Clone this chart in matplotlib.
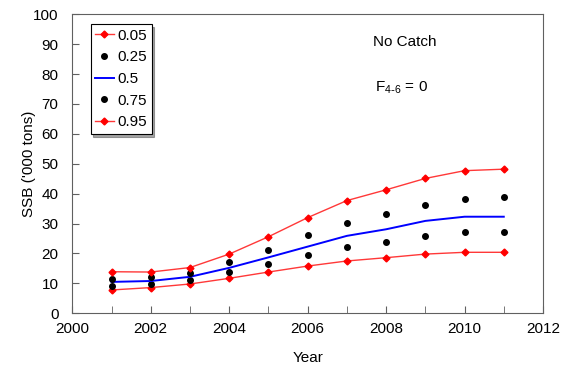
import matplotlib
matplotlib.use("Agg")
import matplotlib.pyplot as plt
from matplotlib.ticker import MultipleLocator

plt.rcParams['font.family'] = ['Liberation Sans', 'DejaVu Sans']

years = [2001, 2002, 2003, 2004, 2005, 2006, 2007, 2008, 2009, 2010, 2011]
q05 = [7.8, 8.6, 9.8, 11.7, 13.8, 15.8, 17.5, 18.6, 19.8, 20.4, 20.4]
q25 = [9.2, 9.9, 11.1, 13.7, 16.4, 19.5, 22.1, 23.7, 25.8, 27.1, 27.1]
q50 = [10.5, 10.8, 12.2, 15.2, 18.7, 22.3, 25.9, 28.1, 30.9, 32.3, 32.3]
q75 = [11.6, 12.0, 13.5, 17.1, 21.2, 26.2, 30.2, 33.3, 36.3, 38.1, 38.8]
q95 = [13.9, 13.8, 15.3, 19.8, 25.6, 32.0, 37.7, 41.3, 45.1, 47.7, 48.2]

fs = 11

fig = plt.figure(figsize=(5.63, 3.72), dpi=100)
ax = fig.add_axes([0.1284, 0.1578, 0.8361, 0.8038])

red = '#ff3838'
ax.plot(years, q05, color=red, lw=1, marker='D', ms=3.5, mfc='red', mec='red', label='0.05')
ax.plot(years, q25, ls='none', marker='o', ms=4, color='black', label='0.25')
ax.plot(years, q50, color='#0000ff', lw=1.4, label='0.5')
ax.plot(years, q75, ls='none', marker='o', ms=4, color='black', label='0.75')
ax.plot(years, q95, color=red, lw=1, marker='D', ms=3.5, mfc='red', mec='red', label='0.95')

ax.set_xlim(2000, 2012)
ax.set_ylim(0, 100)
ax.xaxis.set_major_locator(MultipleLocator(2))
ax.xaxis.set_minor_locator(MultipleLocator(1))
ax.yaxis.set_major_locator(MultipleLocator(10))

for s in ax.spines.values():
    s.set_color('#606060')
ax.tick_params(which='both', direction='in', length=5, color='#606060', labelsize=fs)
ax.tick_params(axis='y', pad=10)
ax.tick_params(axis='x', which='major', pad=6)

ax.set_xlabel('Year', fontsize=fs, labelpad=11)
ax.set_ylabel("SSB ('000 tons)", fontsize=fs, labelpad=-2)

ax.text(2008.48, 90.8, 'No Catch', ha='center', va='center', fontsize=fs)
ax.text(2008.39, 75.4, r'F$_{\mathregular{4\text{-}6}}$ = 0', ha='center', va='center', fontsize=fs)

leg = ax.legend(loc='upper left', bbox_to_anchor=(0.039, 0.967), fontsize=fs,
                fancybox=False, shadow=True, framealpha=1, edgecolor='black',
                handlelength=1.2, handletextpad=0.25, labelspacing=0.5,
                borderpad=0.3, borderaxespad=0)
leg.get_frame().set_linewidth(0.8)

fig.savefig('out.png', dpi=100)
